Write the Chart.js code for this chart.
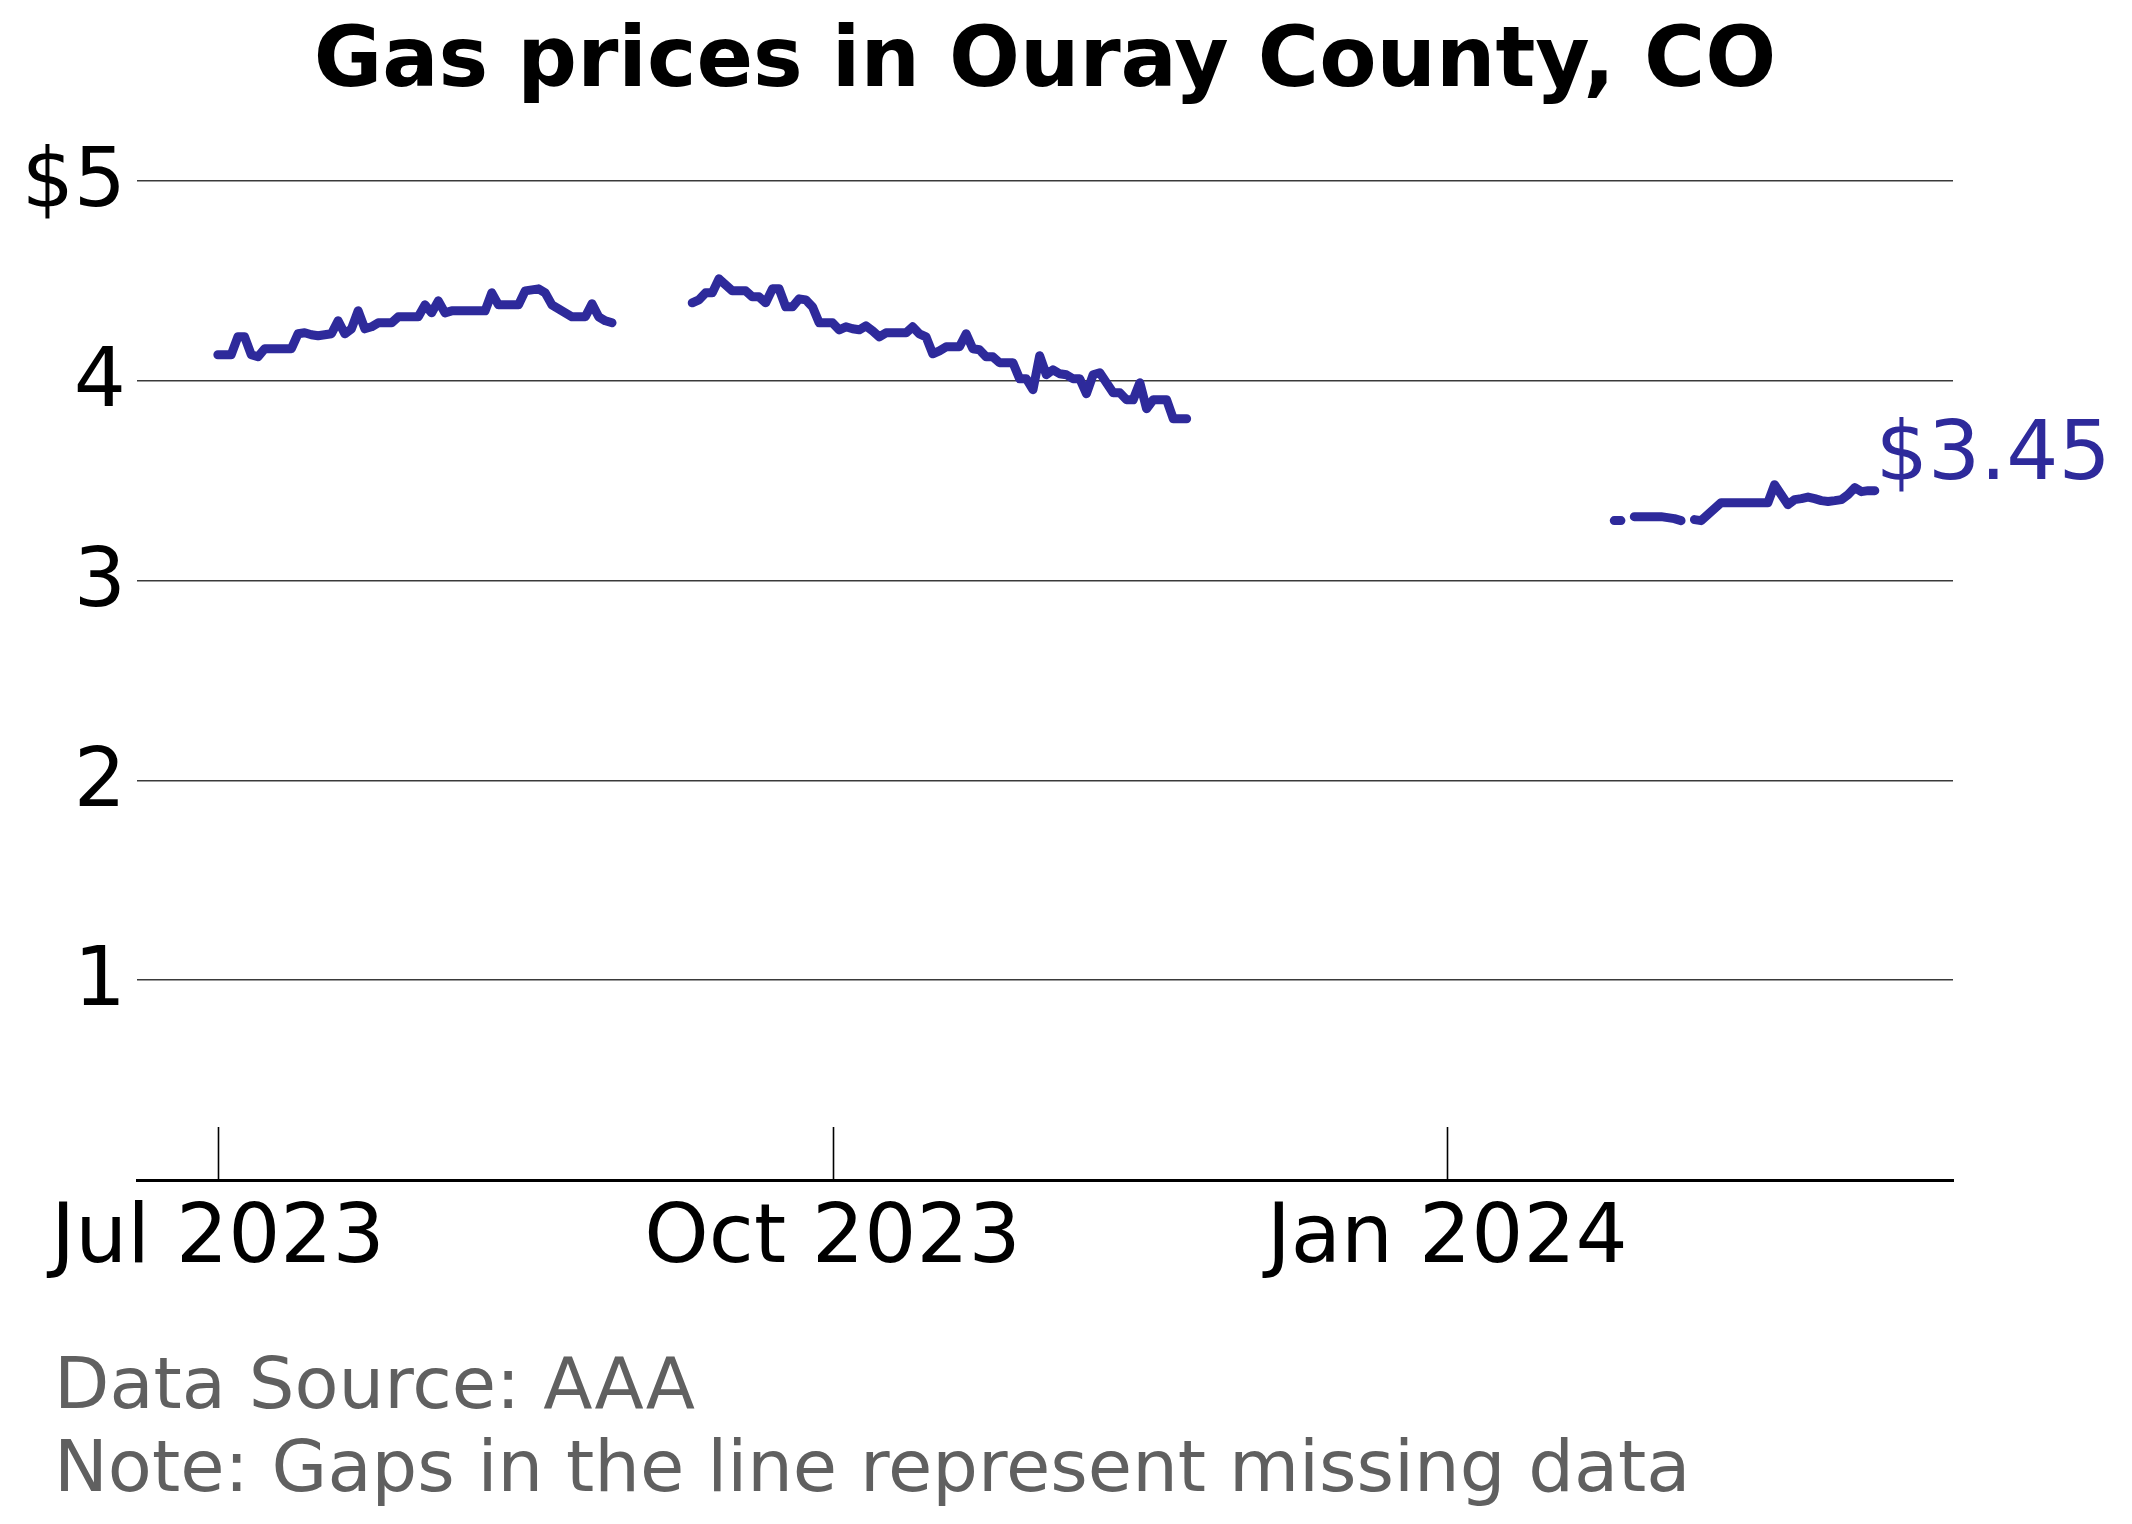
<!DOCTYPE html>
<html>
<head>
<meta charset="utf-8">
<script src="https://cdn.jsdelivr.net/npm/chart.js@4.4.1/dist/chart.umd.min.js"></script>
<style>
  html, body { margin: 0; padding: 0; background: #ffffff; }
  #wrap { width: 2132px; height: 1524px; position: relative; }
  canvas { display: block; }
</style>
</head>
<body>
<div id="wrap"><canvas id="c" width="2132" height="1524"></canvas></div>
<script>
// ---------------- DATA ----------------
const titleText = "Gas prices in Ouray County, CO";
const footnotes = ["Data Source: AAA", "Note: Gaps in the line represent missing data"];

const originDate = "2023-07-01";

// Segment 1: daily prices starting Jul 1 2023
const seg1Start = "2023-07-01";
const seg1Prices = [4.13, 4.13, 4.13, 4.22, 4.22, 4.13, 4.12, 4.16, 4.16, 4.16,
  4.16, 4.16, 4.235, 4.24, 4.23, 4.225, 4.23, 4.235, 4.30, 4.235,
  4.26, 4.35, 4.26, 4.27, 4.29, 4.29, 4.29, 4.32, 4.32, 4.32,
  4.32, 4.38, 4.34, 4.40, 4.34, 4.35, 4.35, 4.35, 4.35, 4.35,
  4.35, 4.44, 4.38, 4.38, 4.38, 4.38, 4.45, 4.455, 4.46, 4.44,
  4.38, 4.36, 4.34, 4.32, 4.32, 4.32, 4.385, 4.32, 4.30, 4.29];

// Segment 2: daily prices starting Sep 10 2023
const seg2Start = "2023-09-10";
const seg2Prices = [4.39, 4.405, 4.44, 4.44, 4.51, 4.48, 4.45, 4.45, 4.45, 4.42,
  4.42, 4.39, 4.46, 4.46, 4.37, 4.37, 4.41, 4.405, 4.37, 4.29,
  4.29, 4.29, 4.255, 4.27, 4.26, 4.255, 4.275, 4.25, 4.22, 4.24,
  4.24, 4.24, 4.24, 4.27, 4.235, 4.22, 4.135, 4.15, 4.17, 4.17,
  4.17, 4.235, 4.16, 4.155, 4.12, 4.12, 4.09, 4.09, 4.09, 4.01,
  4.01, 3.955, 4.125, 4.03, 4.055, 4.035, 4.03, 4.01, 4.01, 3.935,
  4.03, 4.04, 3.99, 3.94, 3.94, 3.905, 3.905, 3.99, 3.86, 3.905,
  3.905, 3.905, 3.81, 3.81, 3.81];

// Segment 3: daily prices starting Jan 26 2024 (null = missing day)
const seg3Start = "2024-01-26";
const seg3Prices = [3.30, 3.30, null, 3.32, 3.32, 3.32, 3.32, 3.32, 3.315, 3.31,
  3.30, null, 3.305, 3.30, 3.33, 3.36, 3.39, 3.39, 3.39, 3.39,
  3.39, 3.39, 3.39, 3.39, 3.48, 3.43, 3.38, 3.405, 3.41, 3.418,
  3.41, 3.40, 3.396, 3.40, 3.405, 3.43, 3.465, 3.445, 3.45, 3.45];

const xTickDates = ["2023-07-01", "2023-10-01", "2024-01-01"];
const xTickLabels = ["Jul 2023", "Oct 2023", "Jan 2024"];
const yTickValues = [1, 2, 3, 4, 5];
const yTickLabels = ["1", "2", "3", "4", "$5"];

// ---------------- HELPERS ----------------
const lineColor = "#2e2a9b";
function dayNum(s) {
  const p = s.split("-").map(Number);
  const o = originDate.split("-").map(Number);
  return Math.round((Date.UTC(p[0], p[1] - 1, p[2]) - Date.UTC(o[0], o[1] - 1, o[2])) / 86400000);
}
function segPoints(start, prices) {
  const d0 = dayNum(start);
  return prices.map((v, i) => ({ x: d0 + i, y: v }));
}
const points = [];
[[seg1Start, seg1Prices], [seg2Start, seg2Prices], [seg3Start, seg3Prices]].forEach((s, k) => {
  if (k > 0) {
    const prev = points[points.length - 1].x;
    points.push({ x: prev + 1, y: null });
  }
  segPoints(s[0], s[1]).forEach(p => points.push(p));
});
const xTickDays = xTickDates.map(dayNum);
let lastPoint = null;
for (let i = points.length - 1; i >= 0; i--) { if (points[i].y !== null) { lastPoint = points[i]; break; } }

const FONT = '"DejaVu Sans", "Liberation Sans", sans-serif';

const annotPlugin = {
  id: "annot",
  afterDraw(chart) {
    const { ctx, chartArea, scales } = chart;
    const xs = scales.x, ys = scales.y;
    ctx.save();
    // inward tick marks on x axis
    ctx.strokeStyle = "#000";
    ctx.lineWidth = 1.6;
    xTickDays.forEach(d => {
      const px = Math.round(xs.getPixelForValue(d)) + 0.5;
      ctx.beginPath();
      ctx.moveTo(px, chartArea.bottom);
      ctx.lineTo(px, chartArea.bottom - 53);
      ctx.stroke();
    });
    // title
    ctx.fillStyle = "#000";
    ctx.font = "bold 83.5px " + FONT;
    ctx.textAlign = "center";
    ctx.textBaseline = "alphabetic";
    ctx.fillText(titleText, (chartArea.left + chartArea.right) / 2, 86);
    // last value label
    ctx.fillStyle = lineColor;
    ctx.font = "82px " + FONT;
    ctx.textAlign = "left";
    ctx.fillText("$" + lastPoint.y.toFixed(2), xs.getPixelForValue(lastPoint.x) + 1, ys.getPixelForValue(lastPoint.y) - 12);
    // footnotes
    ctx.fillStyle = "#606060";
    ctx.font = "72px " + FONT;
    ctx.fillText(footnotes[0], 54, 1408);
    ctx.fillText(footnotes[1], 54, 1491);
    ctx.restore();
  }
};

new Chart(document.getElementById("c"), {
  type: "line",
  data: {
    datasets: [{
      data: points,
      borderColor: lineColor,
      backgroundColor: lineColor,
      borderWidth: 9,
      borderCapStyle: "round",
      borderJoinStyle: "round",
      pointRadius: 0,
      pointHoverRadius: 0,
      tension: 0,
      spanGaps: false,
      fill: false
    }]
  },
  options: {
    responsive: false,
    animation: false,
    devicePixelRatio: 1,
    layout: { padding: { left: 0, right: 179, top: 121, bottom: 224 } },
    plugins: { legend: { display: false }, tooltip: { enabled: false }, title: { display: false } },
    scales: {
      x: {
        type: "linear",
        min: -12.1,
        max: 259.7,
        afterFit(scale) { scale.height = 120; },
        afterBuildTicks(scale) { scale.ticks = xTickDays.map(v => ({ value: v })); },
        grid: { display: true, drawOnChartArea: false, drawTicks: false },
        border: { display: true, color: "#000", width: 3 },
        ticks: {
          autoSkip: false,
          maxRotation: 0,
          padding: 12,
          color: "#000",
          font: { family: FONT, size: 82 },
          callback(value) {
            const i = xTickDays.indexOf(value);
            return i >= 0 ? xTickLabels[i] : "";
          }
        }
      },
      y: {
        type: "linear",
        min: 0,
        max: 5.3,
        afterFit(scale) { scale.width = 137; },
        afterBuildTicks(scale) { scale.ticks = yTickValues.map(v => ({ value: v })); },
        grid: { display: true, drawTicks: false, color: "#3a3a3a", lineWidth: 1.4 },
        border: { display: false },
        ticks: {
          padding: 11,
          labelOffset: 4,
          color: "#000",
          font: { family: FONT, size: 82 },
          callback(value) {
            const i = yTickValues.indexOf(value);
            return i >= 0 ? yTickLabels[i] : "";
          }
        }
      }
    }
  },
  plugins: [annotPlugin]
});
</script>
</body>
</html>
